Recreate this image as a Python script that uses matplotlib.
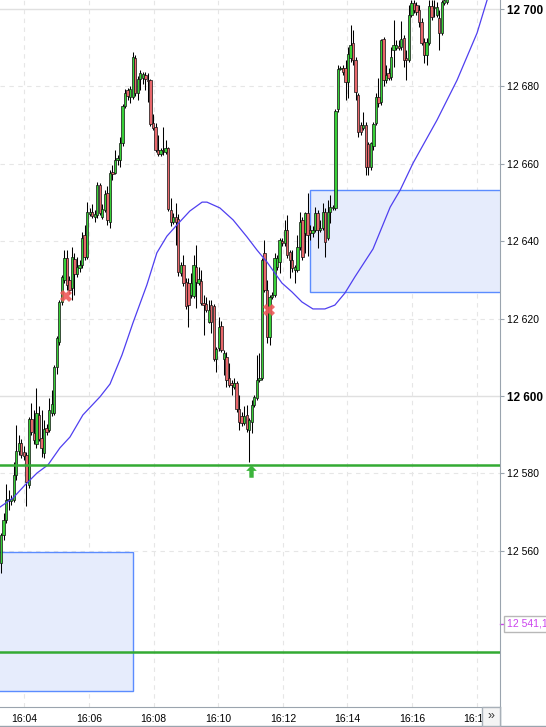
import matplotlib
matplotlib.use('Agg')
import matplotlib.pyplot as plt
import matplotlib.transforms as mtransforms
from matplotlib.lines import Line2D
from matplotlib.patches import Rectangle
from matplotlib.path import Path

plt.rcParams['font.family'] = ['Liberation Sans', 'DejaVu Sans']

# 5-second-ish bars, time in minutes after 16:00
bar_start = 3.276
bar_step = 0.0784

opens = [12556.75, 12564.0, 12568.0, 12573.0, 12572.75, 12573.0, 12579.5, 12585.75, 12587.75, 12585.5,
         12584.75, 12577.0, 12594.0, 12590.5, 12587.5, 12595.0, 12589.25, 12585.25, 12591.75, 12591.25,
         12595.5, 12595.5, 12607.5, 12614.0, 12624.25, 12630.0, 12635.75, 12630.0, 12628.0, 12635.5,
         12631.5, 12633.0, 12633.75, 12641.5, 12636.0, 12647.0, 12647.5, 12646.25, 12646.75, 12654.5,
         12646.25, 12648.0, 12652.5, 12645.0, 12658.0, 12657.75, 12661.0, 12661.0, 12665.25, 12675.0,
         12679.0, 12677.25, 12677.25, 12687.25, 12678.25, 12682.0, 12682.25, 12683.0, 12681.75, 12681.75,
         12670.5, 12669.5, 12663.5, 12662.5, 12663.5, 12663.0, 12664.0, 12648.0, 12645.0, 12646.25,
         12645.75, 12631.75, 12633.75, 12629.5, 12629.25, 12626.0, 12625.75, 12633.25, 12629.25, 12629.75,
         12624.0, 12623.75, 12619.25, 12623.5, 12623.25, 12609.5, 12612.5, 12618.0, 12609.5, 12610.0,
         12604.75, 12603.25, 12602.25, 12603.25, 12596.75, 12594.75, 12593.0, 12595.0, 12591.25, 12593.25,
         12597.75, 12599.5, 12604.25, 12604.75, 12637.0, 12627.5, 12615.25, 12625.5, 12626.0, 12633.25,
         12634.5, 12640.0, 12639.5, 12643.0, 12637.25, 12635.25, 12632.5, 12632.5, 12638.5, 12645.5,
         12642.0, 12647.25, 12643.0, 12642.0, 12643.0, 12647.25, 12643.0, 12643.5, 12647.5, 12640.75,
         12647.5, 12648.5, 12648.5, 12674.25, 12684.5, 12684.75, 12684.75, 12681.25, 12687.25, 12691.25,
         12686.75, 12677.75, 12670.0, 12669.25, 12670.0, 12665.0, 12659.25, 12664.5, 12670.5, 12677.25,
         12676.0, 12692.25, 12681.75, 12683.5, 12682.5, 12689.5, 12690.0, 12690.5, 12690.25, 12692.5,
         12687.25, 12686.75, 12698.5, 12701.5, 12701.0, 12699.75, 12696.75, 12691.5, 12688.0, 12691.25,
         12700.75, 12700.25, 12698.5, 12697.75, 12693.75, 12701.5, 12701.75]
highs = [12564.5, 12569.75, 12577.25, 12575.75, 12574.5, 12583.0, 12592.5, 12590.0, 12589.0, 12587.0,
         12585.5, 12594.5, 12598.25, 12596.5, 12602.0, 12597.5, 12596.5, 12593.75, 12592.75, 12599.5,
         12601.5, 12608.0, 12615.5, 12624.75, 12631.25, 12637.75, 12637.75, 12631.0, 12638.5, 12637.0,
         12636.0, 12635.25, 12642.5, 12644.25, 12650.25, 12648.5, 12649.5, 12648.0, 12655.25, 12655.0,
         12649.5, 12653.25, 12654.25, 12658.5, 12659.75, 12663.5, 12662.25, 12667.0, 12675.5, 12679.25,
         12679.5, 12680.0, 12689.0, 12688.0, 12682.75, 12684.25, 12683.75, 12683.75, 12683.5, 12682.0,
         12673.0, 12670.5, 12667.5, 12664.0, 12669.5, 12666.25, 12664.25, 12651.25, 12647.25, 12650.0,
         12647.0, 12634.5, 12636.5, 12630.5, 12630.5, 12631.75, 12636.5, 12639.0, 12633.25, 12632.5,
         12626.0, 12625.5, 12624.75, 12624.75, 12623.75, 12612.75, 12620.5, 12619.5, 12612.0, 12611.25,
         12608.5, 12604.25, 12604.75, 12603.75, 12600.25, 12595.75, 12597.5, 12597.75, 12594.25, 12599.0,
         12600.25, 12610.5, 12611.0, 12635.75, 12640.25, 12630.0, 12626.0, 12626.75, 12637.0, 12636.5,
         12640.75, 12640.75, 12645.5, 12646.75, 12637.75, 12637.75, 12633.75, 12641.5, 12647.5, 12646.25,
         12647.5, 12652.5, 12644.25, 12644.0, 12648.75, 12648.0, 12645.5, 12650.0, 12648.5, 12650.75,
         12652.0, 12649.25, 12674.25, 12685.5, 12685.25, 12685.5, 12686.75, 12690.25, 12695.75, 12694.5,
         12687.5, 12678.25, 12670.75, 12673.5, 12670.75, 12665.75, 12665.75, 12670.75, 12678.25, 12682.25,
         12692.25, 12692.75, 12685.5, 12684.75, 12690.25, 12697.25, 12692.0, 12692.0, 12697.0, 12693.25,
         12689.5, 12701.0, 12702.25, 12702.25, 12701.75, 12701.0, 12697.75, 12692.5, 12692.5, 12702.25,
         12702.25, 12702.25, 12701.75, 12699.75, 12702.25, 12703.5, 12703.5]
lows = [12554.25, 12562.75, 12567.25, 12570.5, 12571.75, 12572.5, 12578.25, 12584.75, 12584.0, 12583.5,
        12571.5, 12576.25, 12590.0, 12587.5, 12586.5, 12588.5, 12584.25, 12584.0, 12590.0, 12590.75,
        12594.75, 12595.0, 12605.75, 12613.25, 12623.5, 12629.25, 12627.5, 12626.25, 12624.75, 12626.0,
        12630.75, 12632.0, 12633.0, 12635.25, 12635.5, 12646.5, 12646.0, 12645.0, 12646.0, 12646.75,
        12645.75, 12647.5, 12644.25, 12643.5, 12655.75, 12657.25, 12659.75, 12659.25, 12664.5, 12674.5,
        12676.5, 12675.75, 12676.75, 12677.5, 12676.5, 12679.0, 12680.5, 12679.0, 12676.0, 12669.75,
        12668.75, 12663.0, 12662.0, 12662.0, 12662.25, 12662.5, 12647.75, 12644.0, 12644.5, 12639.0,
        12631.0, 12631.0, 12628.5, 12622.5, 12617.75, 12625.25, 12625.25, 12622.75, 12628.75, 12623.5,
        12615.75, 12621.75, 12618.75, 12616.25, 12609.0, 12606.25, 12611.75, 12611.5, 12605.5, 12602.25,
        12602.25, 12600.25, 12601.75, 12595.75, 12591.25, 12592.25, 12592.5, 12590.75, 12583.0, 12590.5,
        12597.25, 12599.0, 12603.5, 12604.25, 12627.0, 12613.75, 12613.25, 12625.0, 12625.5, 12632.5,
        12631.75, 12638.75, 12638.75, 12635.75, 12630.5, 12632.0, 12629.25, 12632.0, 12637.75, 12635.25,
        12637.0, 12636.25, 12640.25, 12641.0, 12642.5, 12638.25, 12642.5, 12643.0, 12636.0, 12640.25,
        12644.75, 12648.0, 12648.0, 12673.5, 12684.25, 12683.0, 12676.5, 12677.0, 12686.25, 12685.5,
        12676.5, 12667.0, 12667.5, 12668.75, 12657.0, 12657.0, 12658.5, 12663.5, 12670.0, 12674.75,
        12675.25, 12680.0, 12681.0, 12681.75, 12681.75, 12685.0, 12689.5, 12689.5, 12689.5, 12685.0,
        12681.75, 12686.25, 12698.0, 12699.0, 12698.5, 12695.25, 12690.75, 12686.0, 12685.5, 12690.75,
        12697.25, 12698.0, 12698.0, 12689.5, 12693.25, 12701.0, 12701.25]
closes = [12564.0, 12568.0, 12573.0, 12573.5, 12573.5, 12579.5, 12585.75, 12587.75, 12584.75, 12584.5,
          12577.75, 12594.0, 12590.75, 12588.75, 12595.5, 12589.0, 12586.5, 12591.5, 12590.75, 12596.5,
          12598.0, 12607.5, 12615.0, 12624.25, 12630.75, 12635.75, 12628.75, 12627.5, 12636.0, 12631.5,
          12633.25, 12633.75, 12640.75, 12636.0, 12647.5, 12647.5, 12646.5, 12647.0, 12654.5, 12647.25,
          12648.25, 12652.25, 12645.5, 12657.5, 12657.25, 12661.0, 12661.5, 12665.25, 12675.0, 12678.25,
          12677.5, 12679.25, 12687.5, 12678.25, 12682.0, 12683.5, 12683.25, 12682.0, 12681.5, 12670.25,
          12669.25, 12663.5, 12662.5, 12663.5, 12663.25, 12664.0, 12648.25, 12645.0, 12646.25, 12645.0,
          12632.0, 12633.75, 12629.25, 12623.25, 12623.5, 12629.25, 12633.75, 12629.5, 12630.25, 12624.0,
          12623.5, 12622.25, 12622.25, 12619.25, 12609.5, 12612.25, 12617.75, 12612.0, 12611.0, 12604.25,
          12602.75, 12602.75, 12603.25, 12596.75, 12593.25, 12593.0, 12594.75, 12591.5, 12593.75, 12597.75,
          12599.75, 12604.25, 12604.75, 12635.25, 12627.5, 12615.25, 12625.5, 12626.0, 12635.75, 12635.75,
          12640.25, 12639.5, 12643.0, 12636.5, 12635.25, 12633.0, 12633.25, 12638.5, 12645.0, 12636.0,
          12647.25, 12641.5, 12642.0, 12643.0, 12647.25, 12643.0, 12643.5, 12647.5, 12639.75, 12647.5,
          12648.75, 12648.75, 12673.75, 12684.5, 12684.75, 12683.75, 12681.25, 12688.5, 12690.75, 12686.75,
          12678.5, 12668.25, 12668.25, 12670.0, 12659.25, 12659.25, 12665.25, 12670.25, 12677.25, 12675.75,
          12692.0, 12681.75, 12683.0, 12682.25, 12687.5, 12690.75, 12690.75, 12690.0, 12692.25, 12686.75,
          12686.75, 12698.5, 12701.5, 12699.75, 12699.25, 12696.75, 12691.25, 12688.0, 12691.5, 12700.75,
          12698.0, 12700.5, 12700.5, 12693.75, 12701.75, 12702.25, 12703.0]

# moving average
ma_t = [3.245, 3.647, 4.019, 4.39, 4.73, 5.10, 5.41, 5.81, 6.34, 6.65, 7.02, 7.36, 7.79, 8.10,
        8.41, 8.72, 9.12, 9.50, 9.65, 10.05, 10.46, 10.89, 11.20, 11.51, 11.97, 12.28, 12.59,
        12.93, 13.30, 13.61, 13.92, 14.23, 14.79, 15.32, 15.63, 16.03, 16.77, 17.39, 18.01, 18.32]
ma_v = [12571.3, 12573.65, 12577.0, 12580.1, 12582.2, 12586.6, 12589.4, 12595.1, 12599.8,
        12603.1, 12610.6, 12618.9, 12628.7, 12637.0, 12641.3, 12644.2, 12647.8, 12650.1,
        12650.1, 12648.6, 12645.5, 12641.1, 12637.7, 12634.6, 12629.2, 12626.9, 12624.3,
        12622.5, 12622.5, 12623.5, 12626.6, 12630.8, 12638.0, 12648.8, 12653.2, 12660.2,
        12671.3, 12681.6, 12693.8, 12702.3]

support_levels = [12582.25, 12533.75]
# zones: (start min, end min, low, high)
zones = [(2.5, 7.373, 12523.7, 12559.6), (12.85, 19.5, 12626.8, 12653.2)]
sell_marks_t = [5.288, 11.57]
sell_marks_v = [12625.8, 12622.3]
buy_arrow_t = 11.01
buy_arrow_v = 12580.6
last_price = 12541.1

y_ticks = [12560, 12580, 12600, 12620, 12640, 12660, 12680, 12700]
x_ticks = [4, 6, 8, 10, 12, 14, 16, 18]

fig = plt.figure(figsize=(5.46, 7.27), dpi=100)
ax = fig.add_axes([0, 20 / 727, 500 / 546, 707 / 727])
ax.set_xlim(3.2448, 18.72)
ax.set_ylim(12519.64, 12702.33)

# grid
for v in y_ticks:
    if v % 100 == 0:
        ax.axhline(v, color='#e0e0e0', lw=1, zorder=0)
    else:
        ax.axhline(v, color='#e6e6e6', lw=0.8, ls=(0, (4, 4)), zorder=0)
for t in x_ticks:
    ax.axvline(t, color='#e6e6e6', lw=0.8, ls=(0, (4, 4)), zorder=0)

# zones
for t0, t1, lo, hi in zones:
    ax.add_patch(Rectangle((t0, lo), t1 - t0, hi - lo, facecolor='#e6ecfc',
                           edgecolor='#5b8cff', lw=1, zorder=1))

# candles
times = [bar_start + i * bar_step for i in range(len(opens))]
colors = ['#37d037' if c >= o else '#e8676b' for o, c in zip(opens, closes)]
bottoms = [min(o, c) for o, c in zip(opens, closes)]
heights = [max(abs(c - o), 0.15) for o, c in zip(opens, closes)]
ax.vlines(times, lows, highs, color='black', lw=0.75, zorder=3)
ax.bar(times, heights, bottom=bottoms, width=bar_step * 0.92, color=colors,
       edgecolor='#111111', linewidth=0.5, zorder=4)

# moving average
ax.plot(ma_t, ma_v, color='#4f3ff0', lw=0.9, zorder=5)

# horizontal levels
for v in support_levels:
    ax.axhline(v, color='#33aa33', lw=1.8, zorder=6)

# signals
ax.plot(sell_marks_t, sell_marks_v, 'X', color='#ef5a5a', ms=8, mew=0, alpha=0.9, zorder=7)
arrow = Path([(0, 1), (0.85, 0.1), (0.35, 0.1), (0.35, -1), (-0.35, -1),
              (-0.35, 0.1), (-0.85, 0.1), (0, 1)])
ax.plot([buy_arrow_t], [buy_arrow_v], marker=arrow, color='#3cb43c', ms=9, mew=0, zorder=7)

# axes styling
for s in ['left', 'top']:
    ax.spines[s].set_visible(False)
for s in ['right', 'bottom']:
    ax.spines[s].set_color('#9aa4ae')
ax.yaxis.tick_right()
labels = [f"{v:,}".replace(',', ' ') for v in y_ticks]
ax.set_yticks(y_ticks, labels=labels)
ax.tick_params(axis='y', length=3, width=0.8, color='#9aa4ae', pad=2, labelsize=7.5)
for lab, v in zip(ax.get_yticklabels(), y_ticks):
    if v % 100 == 0:
        lab.set_fontweight('bold')
        lab.set_fontsize(8.5)
ax.set_xticks(x_ticks, labels=[f"16:{m:02d}" for m in x_ticks])
ax.tick_params(axis='x', length=0, pad=5, labelsize=7.5)

# last price tag
blend = mtransforms.blended_transform_factory(ax.transAxes, ax.transData)
ax.plot([1.0, 1.008], [last_price, last_price], color='#cc44ee', lw=1,
        transform=blend, clip_on=False)
ax.text(1.014, last_price, "12 541,1", color='#cc44ee', fontsize=7.5, ha='left', va='center',
        transform=blend, clip_on=False,
        bbox=dict(boxstyle='square,pad=0.25', fc='white', ec='#b8b8b8', lw=1))

# frame bits below the plot
fig.add_artist(Line2D([0, 1], [1 - 726 / 727] * 2, transform=fig.transFigure,
                      color='#9aa4ae', lw=1))
fig.add_artist(Line2D([500 / 546] * 2, [0, 20 / 727], transform=fig.transFigure,
                      color='#9aa4ae', lw=1))
fig.add_artist(Rectangle((482 / 546, 1 / 727), 18 / 546, 19 / 727, transform=fig.transFigure,
                         facecolor='#f4f4f4', edgecolor='#a8b0b8', lw=1, zorder=10))
fig.text(491 / 546, 10.5 / 727, "»", ha='center', va='center', fontsize=9,
         color='#333333', zorder=11)

fig.savefig('out.png', dpi=100)
